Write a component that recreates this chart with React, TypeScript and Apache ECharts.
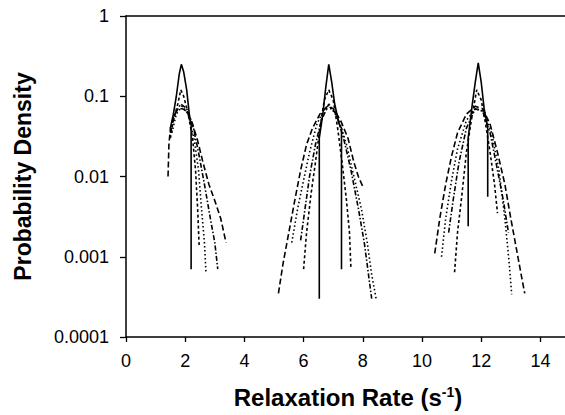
import React, { useEffect, useRef } from "react";
import * as echarts from "echarts";

// Tick values
const xTicks = [0, 2, 4, 6, 8, 10, 12, 14];
const yTickLabels = ["1", "0.1", "0.01", "0.001", "0.0001"];

// Solid curve (narrowest distribution), three peaks
const solidPeak1 = [[1.5, 0.04], [1.6, 0.06], [1.7, 0.1], [1.8, 0.19], [1.87, 0.25], [1.95, 0.2], [2.05, 0.12], [2.15, 0.055], [2.2, 0.045], [2.2, 0.0007]];
const solidPeak2 = [[6.53, 0.0003], [6.53, 0.03], [6.65, 0.06], [6.75, 0.13], [6.85, 0.25], [6.95, 0.15], [7.05, 0.08], [7.2, 0.045], [7.28, 0.04], [7.28, 0.0007]];
const solidPeak3 = [[11.56, 0.0024], [11.56, 0.03], [11.7, 0.08], [11.8, 0.15], [11.9, 0.26], [12.0, 0.15], [12.1, 0.07], [12.22, 0.04], [12.22, 0.0056]];

// Long dashed curve
const longDashPeak1 = [[1.42, 0.01], [1.45, 0.025], [1.5, 0.04], [1.6, 0.055], [1.75, 0.07], [1.9, 0.07], [2.05, 0.065], [2.2, 0.05], [2.4, 0.03], [2.6, 0.015], [2.8, 0.008], [3.0, 0.005], [3.2, 0.003], [3.38, 0.0015]];
const longDashPeak2 = [[5.15, 0.00035], [5.3, 0.0008], [5.5, 0.002], [5.7, 0.005], [5.9, 0.012], [6.1, 0.025], [6.3, 0.04], [6.55, 0.06], [6.8, 0.075], [7.0, 0.07], [7.25, 0.05], [7.5, 0.03], [7.7, 0.015], [7.85, 0.01], [8.0, 0.0075]];
const longDashPeak3 = [[10.43, 0.0011], [10.6, 0.003], [10.8, 0.008], [11.0, 0.018], [11.2, 0.035], [11.5, 0.06], [11.8, 0.075], [12.05, 0.07], [12.3, 0.045], [12.55, 0.02], [12.8, 0.008], [13.0, 0.003], [13.2, 0.0012], [13.35, 0.0006], [13.47, 0.00035]];

// Short dashed curve
const shortDashPeak1 = [[1.5, 0.03], [1.6, 0.05], [1.75, 0.08], [1.85, 0.12], [1.95, 0.1], [2.1, 0.06], [2.25, 0.03], [2.35, 0.012], [2.42, 0.004], [2.47, 0.0014]];
const shortDashPeak2 = [[6.0, 0.0007], [6.1, 0.002], [6.25, 0.006], [6.4, 0.015], [6.55, 0.04], [6.7, 0.09], [6.85, 0.12], [7.0, 0.09], [7.15, 0.04], [7.3, 0.015], [7.45, 0.005], [7.55, 0.002], [7.6, 0.0007]];
const shortDashPeak3 = [[11.1, 0.00064], [11.2, 0.002], [11.35, 0.006], [11.5, 0.02], [11.7, 0.06], [11.85, 0.12], [12.0, 0.09], [12.15, 0.045], [12.3, 0.02], [12.45, 0.008], [12.55, 0.0035]];

// Dotted curve
const dottedPeak1 = [[1.55, 0.035], [1.7, 0.06], [1.9, 0.075], [2.1, 0.06], [2.3, 0.03], [2.45, 0.012], [2.55, 0.004], [2.65, 0.0015], [2.7, 0.00065]];
const dottedPeak2 = [[5.6, 0.0015], [5.8, 0.004], [6.0, 0.009], [6.2, 0.02], [6.45, 0.045], [6.7, 0.07], [6.95, 0.07], [7.2, 0.05], [7.45, 0.025], [7.7, 0.01], [7.95, 0.004], [8.15, 0.0015], [8.3, 0.0006], [8.45, 0.0003]];
const dottedPeak3 = [[10.66, 0.001], [10.8, 0.003], [11.0, 0.009], [11.2, 0.022], [11.5, 0.05], [11.8, 0.07], [12.1, 0.065], [12.35, 0.035], [12.6, 0.012], [12.8, 0.003], [12.95, 0.0008], [13.03, 0.00034]];

// Dash-dot curve
const dashDotPeak1 = [[1.5, 0.035], [1.65, 0.06], [1.85, 0.08], [2.05, 0.07], [2.25, 0.045], [2.45, 0.02], [2.65, 0.008], [2.85, 0.003], [3.0, 0.0015], [3.1, 0.0007]];
const dashDotPeak2 = [[5.9, 0.0016], [6.05, 0.004], [6.2, 0.01], [6.4, 0.025], [6.6, 0.05], [6.85, 0.08], [7.1, 0.06], [7.35, 0.03], [7.6, 0.012], [7.85, 0.004], [8.05, 0.0015], [8.3, 0.0003]];
const dashDotPeak3 = [[10.9, 0.002], [11.05, 0.005], [11.25, 0.015], [11.5, 0.04], [11.8, 0.07], [12.05, 0.065], [12.3, 0.035], [12.55, 0.012], [12.75, 0.005], [12.92, 0.002]];

const styles: { name: string; dash: any; width: number; peaks: number[][][] }[] = [
  { name: "solid", dash: "solid", width: 1.6, peaks: [solidPeak1, solidPeak2, solidPeak3] },
  { name: "long dash", dash: [6, 3], width: 1.6, peaks: [longDashPeak1, longDashPeak2, longDashPeak3] },
  { name: "short dash", dash: [3, 2.5], width: 1.6, peaks: [shortDashPeak1, shortDashPeak2, shortDashPeak3] },
  { name: "dotted", dash: [1.5, 2.5], width: 1.6, peaks: [dottedPeak1, dottedPeak2, dottedPeak3] },
  { name: "dash-dot", dash: [5, 2, 1.5, 2], width: 1.6, peaks: [dashDotPeak1, dashDotPeak2, dashDotPeak3] },
];

const FONT = "'Liberation Sans', Arial, sans-serif";

export default function App() {
  const ref = useRef<HTMLDivElement>(null);
  useEffect(() => {
    if (!ref.current) return;
    const chart = echarts.init(ref.current, null, { renderer: "svg" });
    const series: any[] = [];
    styles.forEach((s) => {
      s.peaks.forEach((pk, i) => {
        series.push({
          name: s.name + " " + (i + 1),
          type: "line",
          data: pk,
          showSymbol: false,
          symbol: "none",
          lineStyle: { color: "#000", width: s.width, type: s.dash },
          silent: true,
        });
      });
    });
    chart.setOption({
      animation: false,
      backgroundColor: "#fff",
      grid: { left: 126, right: 0, top: 16, bottom: 78, containLabel: false },
      xAxis: [
        {
          type: "value",
          min: 0,
          max: 15,
          position: "bottom",
          axisLine: { show: true, lineStyle: { color: "#000", width: 1.5 } },
          axisTick: {
            show: true,
            length: 5,
            customValues: xTicks,
            lineStyle: { color: "#000", width: 1.3 },
          },
          axisLabel: {
            margin: 15,
            fontFamily: FONT,
            fontSize: 18,
            color: "#000",
            customValues: xTicks,
          },
          splitLine: { show: false },
          name: "Relaxation Rate (s{sup|-1})",
          nameLocation: "middle",
          nameGap: 48,
          nameTextStyle: {
            fontFamily: FONT,
            fontSize: 24,
            fontWeight: "bold",
            color: "#000",
            rich: {
              sup: {
                fontFamily: FONT,
                fontSize: 14,
                fontWeight: "bold",
                color: "#000",
                verticalAlign: "top",
                padding: [0, 0, 10, 0],
              },
            },
          },
        },
        {
          type: "value",
          min: 0,
          max: 15,
          position: "top",
          axisLine: { show: true, onZero: false, lineStyle: { color: "#000", width: 1.5 } },
          axisTick: { show: false },
          axisLabel: { show: false },
          splitLine: { show: false },
        },
      ],
      yAxis: {
        type: "log",
        logBase: 10,
        min: 0.0001,
        max: 1,
        axisLine: { show: true, lineStyle: { color: "#000", width: 1.5 } },
        axisTick: { show: true, length: 6, lineStyle: { color: "#000", width: 1.3 } },
        minorTick: { show: false },
        splitLine: { show: false },
        axisLabel: {
          margin: 17,
          fontFamily: FONT,
          fontSize: 18,
          color: "#000",
          formatter: (v: number) => {
            const e = Math.round(Math.log10(v));
            return yTickLabels[-e] ?? "";
          },
        },
        name: "Probability Density",
        nameLocation: "middle",
        nameGap: 92,
        nameTextStyle: {
          fontFamily: FONT,
          fontSize: 23,
          fontWeight: "bold",
          color: "#000",
        },
      },
      series,
    });
    return () => chart.dispose();
  }, []);
  return (
    <div
      style={{
        position: "fixed",
        left: 0,
        top: 0,
        width: 565,
        height: 415,
        overflow: "hidden",
        background: "#fff",
      }}
    >
      <div ref={ref} style={{ width: 570, height: 415 }} />
    </div>
  );
}
